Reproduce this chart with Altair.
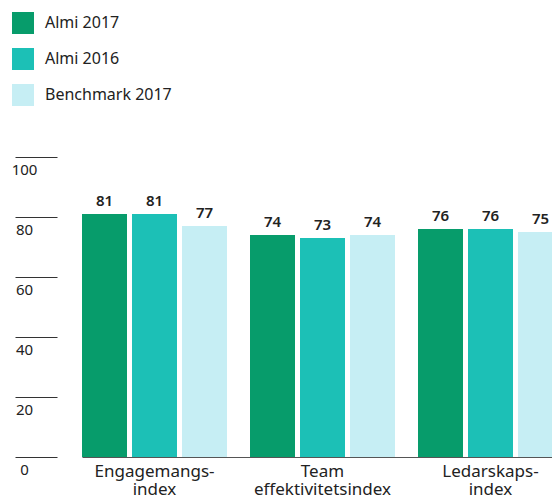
import altair as alt
import pandas as pd

categories = ["Engagemangs-\nindex", "Team\neffektivitetsindex", "Ledarskaps-\nindex"]
series = ["Almi 2017", "Almi 2016", "Benchmark 2017"]
almi_2017 = [81, 74, 76]
almi_2016 = [81, 73, 76]
benchmark_2017 = [77, 74, 75]
colors = ["#079C6B", "#1CC0B6", "#C6EEF4"]
y_ticks = [0, 20, 40, 60, 80, 100]

rows = []
for s, vals in zip(series, [almi_2017, almi_2016, benchmark_2017]):
    for c, v in zip(categories, vals):
        rows.append({"category": c, "series": s, "value": v})
df = pd.DataFrame(rows)

FONT = "Noto Sans"
TXT = "#222222"

base = alt.Chart(df).encode(
    x=alt.X(
        "category:N",
        sort=categories,
        scale=alt.Scale(range=[25, 506], paddingInner=0.137, paddingOuter=0),
        axis=alt.Axis(
            title=None,
            labelAngle=0,
            ticks=False,
            domain=True,
            domainColor="#555555",
            domainWidth=1,
            labelPadding=6,
            labelFontSize=17,
            labelFont=FONT,
            labelColor=TXT,
            labelLineHeight=18,
            labelBaseline="top",
            labelExpr="split(datum.label, '\\n')",
        ),
    ),
    xOffset=alt.XOffset("series:N", sort=series,
                        scale=alt.Scale(paddingInner=0.1, paddingOuter=0)),
    y=alt.Y(
        "value:Q",
        scale=alt.Scale(domain=[0, 100]),
        axis=alt.Axis(
            title=None,
            values=y_ticks,
            domain=False,
            grid=False,
            ticks=True,
            tickSize=42,
            tickColor="#333333",
            tickWidth=1,
            labelAlign="center",
            labelBaseline="top",
            labelPadding=-9,
            labelOffset=5,
            labelFontSize=15,
            labelFont=FONT,
            labelColor=TXT,
        ),
    ),
)

bars = base.mark_bar(clip=True).encode(
    color=alt.Color(
        "series:N",
        sort=series,
        scale=alt.Scale(domain=series, range=colors),
        legend=alt.Legend(
            title=None,
            orient="none",
            legendX=-45,
            legendY=-145,
            symbolType="square",
            symbolSize=484,
            symbolStrokeWidth=0,
            symbolOpacity=1,
            labelFontSize=16,
            labelFont=FONT,
            labelColor=TXT,
            labelOffset=11,
            rowPadding=14,
            padding=0,
        ),
    )
)

labels = base.mark_text(baseline="bottom", dy=-5, fontSize=15, fontWeight=600,
                        font=FONT, color=TXT).encode(text="value:Q")

chart = alt.layer(bars, labels).properties(
    width=495,
    height=300,
    padding={"left": 49, "top": 149, "right": 0, "bottom": 42},
    autosize=alt.AutoSizeParams(type="none"),
).configure_view(stroke=None)

chart.save("out.html", embed_options={"renderer": "svg", "actions": False})
